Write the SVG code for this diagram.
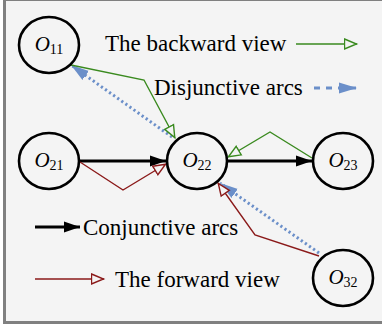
<svg xmlns="http://www.w3.org/2000/svg" width="382" height="328" viewBox="0 0 382 328">
<style>
.node{fill:none;stroke:#000;stroke-width:2.6}
.lbl{font-family:"Liberation Serif","Times New Roman",serif;font-size:21px;font-style:italic;fill:#000}
.sub{font-size:14px;font-style:normal}
.leg{font-family:"Liberation Serif","Times New Roman",serif;font-size:23px;fill:#000}
.conj{stroke:#000;stroke-width:3;fill:none}
.fwd{stroke:#8b1a1a;stroke-width:1.4;fill:none}
.bwd{stroke:#3a8a1f;stroke-width:1.4;fill:none}
.disj{stroke:#6b8fc9;stroke-width:3;fill:none;stroke-dasharray:2.2 2.8}
</style>
<defs>
<marker id="mBlack" markerUnits="userSpaceOnUse" markerWidth="18" markerHeight="12" refX="16" refY="6" orient="auto"><path d="M0,0.5 L16,6 L0,11.5 Z" fill="#000"/></marker>
<marker id="mRed" markerUnits="userSpaceOnUse" markerWidth="16" markerHeight="14" refX="13.5" refY="7" orient="auto"><path d="M1,2 L13,7 L1,12 Z" fill="#f4f4f4" stroke="#8b1a1a" stroke-width="1.4"/></marker>
<marker id="mGreen" markerUnits="userSpaceOnUse" markerWidth="16" markerHeight="14" refX="13.5" refY="7" orient="auto"><path d="M1,2 L13,7 L1,12 Z" fill="#f4f4f4" stroke="#3a8a1f" stroke-width="1.4"/></marker>
<marker id="mBlue" markerUnits="userSpaceOnUse" markerWidth="20" markerHeight="14" refX="18" refY="7" orient="auto"><path d="M0,1.5 L18,7 L0,12.5 Z" fill="#6b8fc9"/></marker>
</defs>
<rect x="0" y="0" width="382" height="328" fill="#fff"/>
<rect x="4.5" y="-0.5" width="382" height="323" fill="#f4f4f4" stroke="#808080" stroke-width="3"/>
<g id="connectors">
<line class="conj" x1="79" y1="161" x2="166" y2="161" marker-end="url(#mBlack)"/>
<line class="conj" x1="228" y1="161" x2="312" y2="161" marker-end="url(#mBlack)"/>
<polyline class="fwd" points="80,162 123,190 166,164" marker-end="url(#mRed)"/>
<polyline class="bwd" points="312,158 270,132 228,157" marker-end="url(#mGreen)"/>
<line class="disj" x1="172" y1="137" x2="71" y2="65" marker-end="url(#mBlue)"/>
<polyline class="bwd" points="71,65 144,80 175,138" marker-end="url(#mGreen)"/>
<line class="disj" x1="319" y1="253" x2="220" y2="183" marker-end="url(#mBlue)"/>
<polyline class="fwd" points="319,256 255,235 218,183" marker-end="url(#mRed)"/>
</g>
<g id="O11"><ellipse class="node" cx="49" cy="45" rx="30" ry="28"/><text class="lbl" x="49" y="51" text-anchor="middle">O<tspan class="sub" dy="3">11</tspan></text></g>
<g id="O21"><ellipse class="node" cx="49" cy="161" rx="30" ry="28"/><text class="lbl" x="49" y="167" text-anchor="middle">O<tspan class="sub" dy="3">21</tspan></text></g>
<g id="O22"><ellipse class="node" cx="197" cy="161" rx="30" ry="28"/><text class="lbl" x="197" y="167" text-anchor="middle">O<tspan class="sub" dy="3">22</tspan></text></g>
<g id="O23"><ellipse class="node" cx="343" cy="161" rx="30" ry="28"/><text class="lbl" x="343" y="167" text-anchor="middle">O<tspan class="sub" dy="3">23</tspan></text></g>
<g id="O32"><ellipse class="node" cx="343" cy="278" rx="30" ry="28"/><text class="lbl" x="343" y="284" text-anchor="middle">O<tspan class="sub" dy="3">32</tspan></text></g>
<g id="legend">
<text class="leg" x="105" y="51">The backward view</text>
<line class="bwd" x1="296" y1="44" x2="357" y2="44" marker-end="url(#mGreen)"/>
<text class="leg" x="154" y="95">Disjunctive arcs</text>
<line x1="314" y1="88" x2="357" y2="88" stroke="#6b8fc9" stroke-width="3" stroke-dasharray="6 6" marker-end="url(#mBlue)"/>
<line class="conj" x1="35" y1="227" x2="80" y2="227" marker-end="url(#mBlack)"/>
<text class="leg" x="83" y="235">Conjunctive arcs</text>
<line class="fwd" x1="35" y1="279" x2="104" y2="279" marker-end="url(#mRed)"/>
<text class="leg" x="115" y="287">The forward view</text>
</g>
</svg>
